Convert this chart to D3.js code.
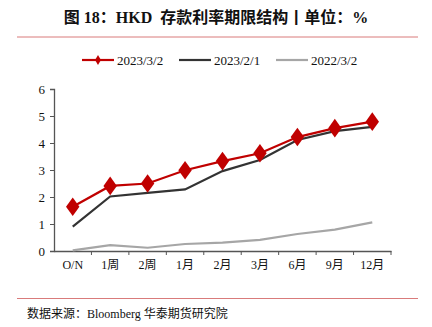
<!DOCTYPE html>
<html><head><meta charset="utf-8">
<script src="https://cdn.jsdelivr.net/npm/d3@7"></script>
<style>
body{margin:0;background:#fff;}
svg{display:block;}
</style></head>
<body>
<svg id="c" width="432" height="327"></svg>
<script>
const categories = ["O/N","1周","2周","1月","2月","3月","6月","9月","12月"];
const s20230302 = [1.64,2.41,2.50,2.99,3.33,3.62,4.22,4.55,4.79];
const s20230201 = [0.90,2.02,2.15,2.28,2.96,3.37,4.11,4.44,4.60];
const s20220302 = [0.02,0.22,0.12,0.26,0.31,0.41,0.63,0.79,1.06];
const seriesNames = ["2023/3/2","2023/2/1","2022/3/2"];
const yTicks = [0,1,2,3,4,5,6];

const svg = d3.select("#c");
const serif = "'Liberation Serif','Times New Roman',serif";
const cjk = "'Liberation Serif','Noto Sans CJK SC',serif";

svg.append("text").attr("x",216).attr("y",23).attr("text-anchor","middle")
  .attr("font-family","'Liberation Serif','Noto Sans CJK SC',sans-serif").attr("font-weight","bold")
  .attr("font-size",16).attr("fill","#111")
  .attr("xml:space","preserve").style("white-space","pre")
  .text("图 18：HKD  存款利率期限结构丨单位：%");
svg.append("line").attr("x1",17).attr("x2",418).attr("y1",37).attr("y2",37)
  .attr("stroke","#d97b7b").attr("stroke-width",1);
svg.append("line").attr("x1",17).attr("x2",418).attr("y1",298.5).attr("y2",298.5)
  .attr("stroke","#d97b7b").attr("stroke-width",1);
svg.append("text").attr("x",27).attr("y",318)
  .attr("font-family",cjk).attr("font-size",12).attr("fill","#111")
  .text("数据来源：Bloomberg 华泰期货研究院");

const x = d3.scaleBand().domain(categories).range([54,391]).padding(0);
const y = d3.scaleLinear().domain([0,6]).range([251,89]);

const gy = svg.append("g").attr("transform","translate(54,0)")
  .call(d3.axisLeft(y).tickValues(yTicks).tickSize(4).tickFormat(d3.format("d")));
gy.select(".domain").attr("stroke","#555").attr("stroke-width",1.3);
gy.selectAll(".tick line").attr("stroke","#555");
gy.selectAll("text").attr("font-family",serif).attr("font-size",13).attr("fill","#111").attr("dx",-2);

const gx = svg.append("g").attr("transform","translate(0,251)")
  .call(d3.axisBottom(x).tickSize(0).tickPadding(9));
gx.select(".domain").attr("stroke","#555").attr("stroke-width",1.3);
gx.selectAll("text").attr("font-family",cjk).attr("font-size",12).attr("fill","#111");
const bounds = categories.map(c=>x(c)+x.bandwidth());
gx.selectAll(".bnd").data(bounds).enter().append("line")
  .attr("x1",d=>d).attr("x2",d=>d).attr("y1",0).attr("y2",4)
  .attr("stroke","#555").attr("stroke-width",1);

const line = d3.line().x((d,i)=>x(categories[i])+x.bandwidth()/2).y(d=>y(d));
const colors = ["#c00000","#333333","#a6a6a6"];
const data = [s20230302,s20230201,s20220302];
[2,1,0].forEach(k=>{
  svg.append("path").datum(data[k]).attr("d",line).attr("fill","none")
    .attr("stroke",colors[k]).attr("stroke-width",2.2);
});
const diamond = d3.symbol().type(d3.symbolDiamond).size(100);
svg.selectAll(".dm").data(s20230302).enter().append("path")
  .attr("d",diamond)
  .attr("transform",(d,i)=>`translate(${x(categories[i])+x.bandwidth()/2},${y(d)}) scale(1.25,1)`)
  .attr("fill","#c00000");

const lx = [82,179,276];
seriesNames.forEach((n,k)=>{
  svg.append("line").attr("x1",lx[k]).attr("x2",lx[k]+32).attr("y1",60).attr("y2",60)
    .attr("stroke",colors[k]).attr("stroke-width",2.2);
  if(k===0){
    svg.append("path").attr("d",d3.symbol().type(d3.symbolDiamond).size(30)())
      .attr("transform",`translate(${lx[k]+16},60)`).attr("fill","#c00000");
  }
  svg.append("text").attr("x",lx[k]+35).attr("y",64.5)
    .attr("font-family",serif).attr("font-size",13).attr("fill","#111").text(n);
});
</script>
</body></html>
